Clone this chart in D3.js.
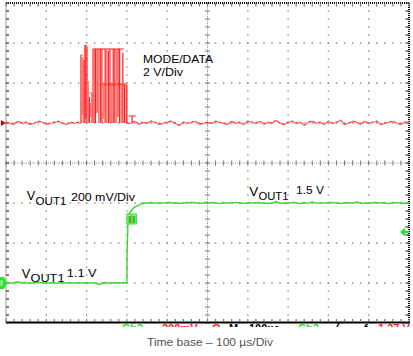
<!DOCTYPE html>
<html><head><meta charset="utf-8">
<script src="https://cdn.jsdelivr.net/npm/d3@7"></script>
<style>body{margin:0;background:#fff}svg{display:block;font-family:"Liberation Sans",Arial,sans-serif}</style>
</head><body><svg id="c" width="413" height="356"></svg>
<script>
// ---- data ----
const timeDomain = [0, 1000];          // µs, 100 µs/div, 10 div
const voutDomain = [0.9, 2.5];         // V, 200 mV/div, 8 div
const modeDomain = [-10, 6];           // V, 2 V/div, 8 div
const sampleStep = 10;                 // µs between samples
const redPre = [0.05,0,-0.05,0.1,0,0.05,-0.05,0,0.1,0.05,-0.05,0,0.05,0.1,0,-0.05,0.05,0,0.05];
const redPostStart = 310;
const redPost = [0,0.1,-0.05,0.05,0,0.1,0.05,-0.05,0,0.05,0.1,0,-0.1,0.05,0,0.05,0.1,-0.05,0,0.05,
  0,0.1,0.05,0,-0.05,0.1,0,0.05,-0.05,0.1, 0.05,0,0.1,-0.05,0.05,0,0.15,0,-0.05,0.05,
  0.1,0,0.05,-0.1,0.05,0.1,0,0.05,-0.05,0.1, 0,0.05,0.15,-0.05,0,0.1,0.05,-0.05,0.1,0,
  0.05,0.1,-0.05,0,0.05,0.1,0,-0.05,0.05,0.1];
const burstPulses = [
  [186,0,3.4,"d"],[188,0,2.6,"l"],[190,0.4,3.3,"l"],[193.5,0,3.15,"d"],[196,0,3.9,"d"],
  [198,0.2,3.8,"d"],[201,0,3.8,"d"],[204,0,2.1,"l"],[207,0,1.3,"d"],[210,0.3,1.0,"l"],
  [213,0,1.5,"l"],[216,0,3.7,"d"],[219,0,3.7,"l"],[222,0,3.7,"d"],[226,0.5,3.7,"d"],
  [230,0,3.7,"l"],[234,0,3.7,"d"],[238,0,3.7,"d"],[242,0.2,1.9,"l"],[246,0,3.7,"d"],
  [250,0,3.7,"l"],[254,0,3.6,"d"],[258,0,3.7,"d"],[262,0,1.9,"l"],[266,0,3.7,"d"],
  [270,0,3.7,"d"],[274,0,3.7,"l"],[278,0.3,3.7,"d"],[282,0,3.7,"d"],[286,0,1.9,"l"],
  [290,0,3.5,"d"],[294,0,1.9,"d"],[298,0,1.9,"l"],[300,0,1.9,"d"]];
const burstLevels = [[186,191,3.4,"l"],[195,202,3.85,"d"],[215,292,3.7,"d"],[203,214,1.5,"l"],[228,300,1.9,"l"],[240,300,1.95,"d"]];
const cursorT = 313;
const greenPre = [1.1,1.1,1.1,1.105,1.1,1.1,1.1,1.1,1.105,1.1, 1.1,1.1,1.1,1.1,1.1,1.1,1.1,1.1,1.1,1.1,
  1.1,1.1,1.1,1.093,1.1,1.1,1.1,1.1,1.1,1.1];
const greenStep = [[300,1.10],[300.5,1.25],[302.5,1.40],[305,1.44],[310,1.46],[317,1.475],[325,1.485],[333,1.493],[341,1.499],[352,1.5]];
const greenPostStart = 360;
const greenPost = [1.5,1.5,1.498,1.5,1.502,1.5,1.5,1.497,1.5,1.5, 1.503,1.5,1.498,1.5,1.5,1.502,1.5,1.497,1.5,1.5,
  1.5,1.503,1.5,1.498,1.5,1.5,1.502,1.5,1.5,1.497, 1.5,1.505,1.5,1.498,1.5,1.502,1.5,1.497,1.5,1.5,
  1.503,1.5,1.498,1.5,1.5,1.502,1.5,1.497,1.5,1.5, 1.5,1.503,1.5,1.498,1.5,1.5,1.502,1.5,1.5,1.497,
  1.5,1.502,1.5,1.498,1.5];
const triggerLevel = 1.355;
const labels = {
  mode: ["MODE/DATA", "2 V/Div"],
  vout: ["V", "OUT1"],
  voutScale: "200 mV/Div", voutHigh: "1.5 V", voutLow: "1.1 V",
  caption: "Time base \u2013 100 \u00b5s/Div"
};
const statusItems = [["Ch2","g"],["200mV","r"],["\u03a9","r"],["M","k"],["100\u00b5s","k"],["Ch2","g"],["\u2571","k"],["f","k"],["1.27 V","r"]];

// ---- drawing ----
const svg = d3.select("#c");
const L = 6, R = 409, T = 3, B = 323;
const x = d3.scaleLinear().domain(timeDomain).range([L, R]);
const yG = d3.scaleLinear().domain(voutDomain).range([B, T]);
const yR = d3.scaleLinear().domain(modeDomain).range([B, T]);
const RED = "#ff1f1f", PINK = "#ff7878", GREEN = "#2fe02f", GRID = "#8a8a8a";

// grid
const g = svg.append("g");
const divX = d3.range(1, 10).map(k => x(k * 100));
const divY = d3.range(1, 8).map(k => yG(0.9 + k * 0.2));
divX.forEach((px, i) => {
  if (i === 4) return;
  g.append("line").attr("x1", px).attr("x2", px).attr("y1", T - 0.7).attr("y2", B)
   .attr("stroke", GRID).attr("stroke-width", 1.3).attr("stroke-dasharray", "1.4 6.6");
});
divY.forEach((py, i) => {
  if (i === 3) return;
  g.append("line").attr("y1", py).attr("y2", py).attr("x1", L - 0.7).attr("x2", R)
   .attr("stroke", GRID).attr("stroke-width", 1.3).attr("stroke-dasharray", "1.4 6.66");
});
// center cross
const cx = x(500), cy = yG(1.7);
g.append("line").attr("x1", cx).attr("x2", cx).attr("y1", T).attr("y2", B).attr("stroke", GRID).attr("stroke-width", 1).attr("stroke-dasharray", "1 1.2");
g.append("line").attr("y1", cy).attr("y2", cy).attr("x1", L).attr("x2", R).attr("stroke", GRID).attr("stroke-width", 1).attr("stroke-dasharray", "1 1.2");
const minX = d3.range(0, 51).map(k => L + k * (R - L) / 50);
const minY = d3.range(0, 41).map(k => T + k * (B - T) / 40);
minY.forEach(py => g.append("line").attr("x1", cx - 2.5).attr("x2", cx + 2.5).attr("y1", py).attr("y2", py).attr("stroke", "#777").attr("stroke-width", 1));
minX.forEach(px => g.append("line").attr("y1", cy - 2.5).attr("y2", cy + 2.5).attr("x1", px).attr("x2", px).attr("stroke", "#777").attr("stroke-width", 1));
// border
g.append("line").attr("x1", L).attr("x2", L).attr("y1", T).attr("y2", B).attr("stroke", "#999").attr("stroke-width", 1);
g.append("line").attr("x1", L).attr("x2", R + 1).attr("y1", T).attr("y2", T).attr("stroke", "#000").attr("stroke-width", 2).attr("stroke-dasharray", "1 1");
g.append("line").attr("x1", R).attr("x2", R).attr("y1", T).attr("y2", B).attr("stroke", "#000").attr("stroke-width", 2).attr("stroke-dasharray", "1 1");
g.append("line").attr("x1", L).attr("x2", R + 1).attr("y1", B - 0.5).attr("y2", B - 0.5).attr("stroke", "#000").attr("stroke-width", 2);
minX.forEach(px => {
  g.append("line").attr("x1", px).attr("x2", px).attr("y1", T).attr("y2", T + 3.5).attr("stroke", "#777").attr("stroke-width", 1.2);
  g.append("line").attr("x1", px).attr("x2", px).attr("y1", B - 1).attr("y2", B - 4).attr("stroke", "#777").attr("stroke-width", 1.2);
});
minY.forEach(py => {
  g.append("line").attr("y1", py).attr("y2", py).attr("x1", L).attr("x2", L + 3).attr("stroke", "#333").attr("stroke-width", 1.2);
  g.append("line").attr("y1", py).attr("y2", py).attr("x1", R).attr("x2", R - 3.5).attr("stroke", "#333").attr("stroke-width", 1.2);
});

// red trace
const lineR = d3.line().x(d => x(d[0])).y(d => yR(d[1]));
const redA = redPre.map((v, i) => [i * sampleStep, v]).concat([[186, 0]]);
const redB = [[300, 0]].concat(redPost.map((v, i) => [redPostStart + i * sampleStep, v]));
[redA, redB].forEach(pts => {
  svg.append("path").attr("d", lineR(pts)).attr("fill", "none").attr("stroke", PINK).attr("stroke-width", 1.2)
    .attr("transform", "translate(0,0.5)");
  svg.append("path").attr("d", lineR(pts)).attr("fill", "none").attr("stroke", RED).attr("stroke-width", 0.9)
    .attr("stroke-dasharray", "3 2");
});
const bg = svg.append("g");
burstLevels.forEach(([t0, t1, v, c]) => bg.append("line").attr("x1", x(t0)).attr("x2", x(t1)).attr("y1", yR(v)).attr("y2", yR(v))
  .attr("stroke", c === "d" ? RED : PINK).attr("stroke-width", 1.1));
burstPulses.forEach(([t, lo, hi, c]) => bg.append("line").attr("x1", x(t)).attr("x2", x(t)).attr("y1", yR(lo)).attr("y2", yR(hi))
  .attr("stroke", c === "d" ? RED : PINK).attr("stroke-width", c === "d" ? 1.2 : 1.5));
svg.append("path").attr("d", `M${x(cursorT - 9)},${yR(0.35)}H${x(cursorT + 9)}M${x(cursorT)},${yR(0.35)}V${yR(0)}`)
  .attr("stroke", RED).attr("stroke-width", 1.2).attr("fill", "none");

// green trace
const lineG = d3.line().x(d => x(d[0])).y(d => yG(d[1]));
const greenPts = greenPre.map((v, i) => [i * sampleStep, v]).concat(greenStep, greenPost.map((v, i) => [greenPostStart + i * sampleStep, v]));
svg.append("path").attr("d", lineG(greenPts)).attr("fill", "none").attr("stroke", PINK).attr("stroke-width", 1.3)
  .attr("stroke-dasharray", "2 7").attr("transform", "translate(0,-0.6)");
svg.append("path").attr("d", lineG(greenPts)).attr("fill", "none").attr("stroke", GREEN).attr("stroke-width", 1.4);
// step marker box
const bx = x(300), by = yG(1.445);
svg.append("rect").attr("x", bx).attr("y", by).attr("width", 9.5).attr("height", 10).attr("fill", "#8ff08f").attr("stroke", GREEN).attr("stroke-width", 1);
svg.append("rect").attr("x", bx + 1.5).attr("y", by + 2).attr("width", 2.6).attr("height", 7).attr("fill", "#1fd01f");
svg.append("rect").attr("x", bx + 5.5).attr("y", by + 2).attr("width", 2.8).attr("height", 7).attr("fill", "#1fd01f");
svg.append("line").attr("x1", bx + 4.7).attr("x2", bx + 4.7).attr("y1", by + 1).attr("y2", by + 10).attr("stroke", PINK).attr("stroke-width", 1);

// markers
const rY = yR(0);
svg.append("path").attr("d", `M1,${rY - 3}L6,${rY}L1,${rY + 3}Z`).attr("fill", "#d00");
const gY = yG(1.1);
svg.append("path").attr("d", `M0,${gY - 6}H4L7,${gY}L4,${gY + 6}H0Z`).attr("fill", GREEN);
svg.append("path").attr("d", `M0.5,${gY - 3}h2v6h-2z`).attr("fill", "#9f9");
const tY = yG(triggerLevel);
svg.append("path").attr("d", `M400,${tY}L405,${tY - 4.5}V${tY - 1.2}H409V${tY + 1.2}H405V${tY + 4.5}Z`).attr("fill", GREEN);

// labels
function txt(s, px, py, size, len, fill) {
  const t = svg.append("text").attr("x", px).attr("y", py).attr("font-size", size).attr("fill", fill || "#000").text(s);
  if (len) t.attr("textLength", len).attr("lengthAdjust", "spacingAndGlyphs");
  return t;
}
txt(labels.mode[0], 143, 63, 11.5, 70);
txt(labels.mode[1], 143, 76.3, 11.5, 40);
txt(labels.vout[0], 26.7, 200, 12.5, 8.5);
txt(labels.vout[1], 35.5, 205, 10.5, 31);
txt(labels.voutScale, 71, 201, 11, 64);
txt(labels.vout[0], 249.3, 196, 13, 9);
txt(labels.vout[1], 258.5, 199.5, 10.5, 30);
txt(labels.voutHigh, 296, 194.3, 11.5, 28);
txt(labels.vout[0], 21.7, 278.3, 13, 8.5);
txt(labels.vout[1], 30.5, 282.3, 10.5, 34);
txt(labels.voutLow, 66.7, 277.3, 11.5, 30);
txt(labels.caption, 147, 345.5, 11.5, 126, "#555");

// clipped status line under the screen
svg.append("clipPath").attr("id", "st").append("rect").attr("x", 0).attr("y", 323).attr("width", 413).attr("height", 4);
const st = svg.append("g").attr("clip-path", "url(#st)");
const stX = [122, 162, 212, 229, 249, 298, 333, 364, 378];
statusItems.forEach(([s, c], i) => st.append("text").attr("x", stX[i]).attr("y", 332).attr("font-size", 11).attr("font-weight", "bold")
  .attr("fill", c === "g" ? GREEN : c === "r" ? RED : "#000").text(s));
</script></body></html>
